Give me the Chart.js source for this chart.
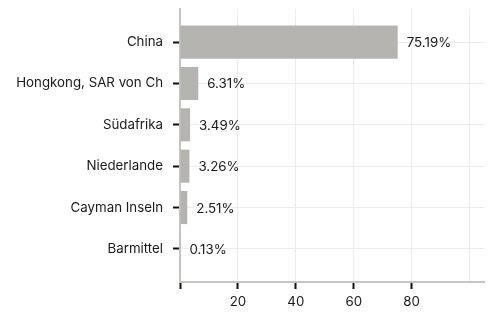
<!DOCTYPE html>
<html>
<head>
<meta charset="utf-8">
<script src="https://cdn.jsdelivr.net/npm/chart.js@4"></script>
<style>
  html, body { margin: 0; padding: 0; background: #fff; }
  #wrap { width: 489px; height: 313px; position: relative; }
</style>
</head>
<body>
<div id="wrap"><canvas id="countryChart"></canvas></div>
<script>
const countries = ['China', 'Hongkong, SAR von Ch', 'Südafrika', 'Niederlande', 'Cayman Inseln', 'Barmittel'];
const shares = [75.19, 6.31, 3.49, 3.26, 2.51, 0.13];
const xTicks = [0, 20, 40, 60, 80, 100];
const xLabels = ['', '20', '40', '60', '80', ''];

const FONT = { family: 'Inter, "Noto Sans", sans-serif', size: 13.3 };
const BAR = '#b5b4b0';
const GRID = '#ececec';
const AXIS = '#c4c4c0';
const TEXT = '#1a1a1a';

// value labels right of each bar
const valueLabels = {
  id: 'valueLabels',
  afterDatasetsDraw(chart) {
    const { ctx } = chart;
    const meta = chart.getDatasetMeta(0);
    ctx.save();
    ctx.font = `${FONT.size}px ${FONT.family}`;
    ctx.fillStyle = TEXT;
    ctx.textAlign = 'left';
    ctx.textBaseline = 'middle';
    meta.data.forEach((bar, i) => {
      ctx.fillText(shares[i].toFixed(2) + '%', bar.x + 9, bar.y + 1);
    });
    ctx.restore();
  },
};

new Chart(document.getElementById('countryChart').getContext('2d'), {
  type: 'bar',
  data: {
    datasets: [{
      data: shares.map((v, i) => ({ x: v, y: i })),
      backgroundColor: BAR,
      borderWidth: 0,
      barPercentage: 0.8,
      categoryPercentage: 1,
    }],
  },
  options: {
    indexAxis: 'y',
    responsive: true,
    maintainAspectRatio: false,
    animation: false,
    layout: { padding: { top: 9, right: 5, left: 0, bottom: 0 } },
    plugins: { legend: { display: false }, tooltip: { enabled: false } },
    scales: {
      y: {
        type: 'linear',
        reverse: true,
        offset: false,
        min: -0.8,
        max: 5.8,
        afterBuildTicks: (scale) => { scale.ticks = countries.map((_, i) => ({ value: i })); },
        afterFit: (scale) => {
          scale.width = 180;
          scale.paddingTop = 0;
          scale.paddingBottom = 0;
        },
        ticks: {
          callback: (v) => countries[v] ?? '',
          color: TEXT,
          font: FONT,
          padding: 10,
        },
        grid: { offset: false, color: GRID, lineWidth: 1, tickColor: '#111', tickWidth: 2, tickLength: 7 },
        border: { color: AXIS, width: 2 },
      },
      x: {
        type: 'linear',
        min: 0,
        max: 105,
        afterBuildTicks: (scale) => { scale.ticks = xTicks.map((v) => ({ value: v })); },
        afterFit: (scale) => {
          scale.height = 31;
          scale.paddingLeft = 0;
          scale.paddingRight = 0;
        },
        ticks: {
          callback: (v) => xLabels[xTicks.indexOf(v)] ?? '',
          color: TEXT,
          font: FONT,
          padding: 5,
          maxRotation: 0,
        },
        grid: {
          color: GRID,
          lineWidth: 1,
          tickColor: (c) => (c.tick && c.tick.value === 100 ? 'rgba(0,0,0,0)' : '#111'),
          tickWidth: 2,
          tickLength: 7,
        },
        border: { color: AXIS, width: 2 },
      },
    },
  },
  plugins: [valueLabels],
});
</script>
</body>
</html>
